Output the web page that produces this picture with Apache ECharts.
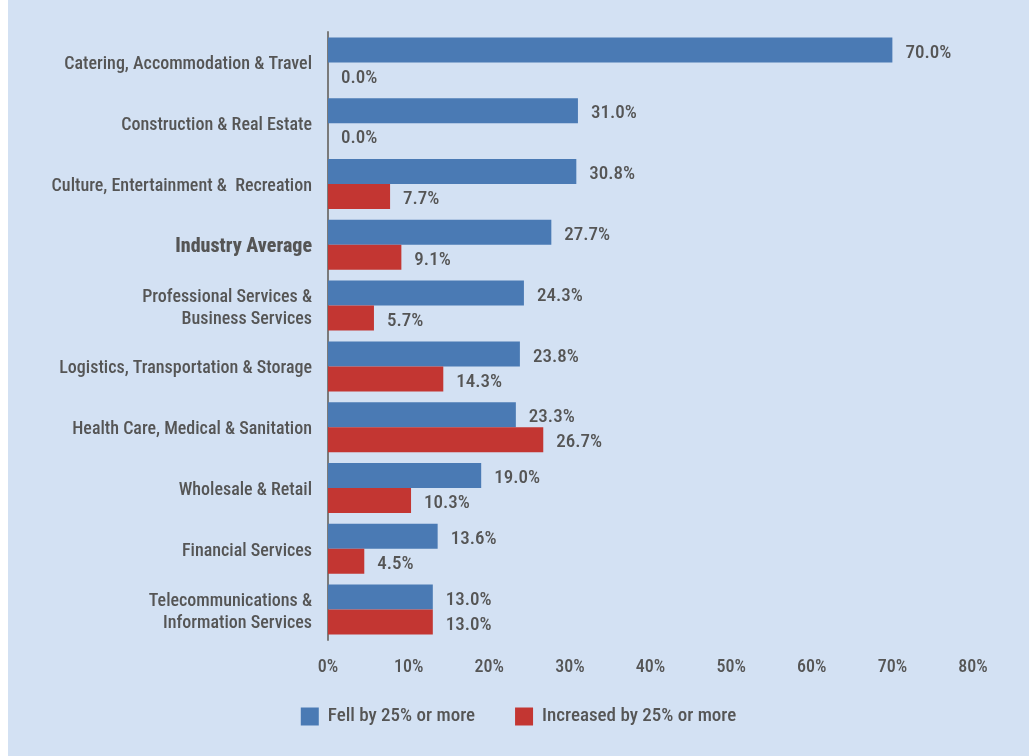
<!DOCTYPE html>
<html>
<head>
<meta charset="utf-8">
<script src="https://cdn.jsdelivr.net/npm/echarts@6/dist/echarts.min.js"></script>
<style>
  html, body { margin: 0; padding: 0; background: #ffffff; }
  #chart { position: absolute; left: 8px; top: 0; width: 1021px; height: 756px; background: #d3e1f3; }
</style>
</head>
<body>
<div id="chart"></div>
<script>
// Industries, top to bottom
const categories = [
  'Catering, Accommodation & Travel',
  'Construction & Real Estate',
  'Culture, Entertainment &  Recreation',
  'Industry Average',
  'Professional Services &\nBusiness Services',
  'Logistics, Transportation & Storage',
  'Health Care, Medical & Sanitation',
  'Wholesale & Retail',
  'Financial Services',
  'Telecommunications &\nInformation Services'
];
// Share of firms whose revenue fell / increased by 25% or more (%)
const fellValues = [70.0, 31.0, 30.8, 27.7, 24.3, 23.8, 23.3, 19.0, 13.6, 13.0];
const increasedValues = [0.0, 0.0, 7.7, 9.1, 5.7, 14.3, 26.7, 10.3, 4.5, 13.0];
const seriesNames = ['Fell by 25% or more', 'Increased by 25% or more'];
const highlighted = 'Industry Average';

// Condensed Roboto face for all text
const FONT = '"Roboto Condensed", Roboto, sans-serif';
const STRETCH = 'condensed';
const TEXT = '#555555';

const chart = echarts.init(document.getElementById('chart'));

const text = (size, weight) => ({
  color: TEXT, fontFamily: FONT, fontStyle: STRETCH, fontWeight: weight || 500, fontSize: size
});

const labelStyle = Object.assign({
  show: true,
  position: 'right',
  distance: 13,
  offset: [0, 3],
  formatter: p => p.value.toFixed(1) + '%'
}, text(19));

const option = {
  animation: false,
  grid: { left: 320, right: 56, top: 32, bottom: 116, containLabel: false },
  legend: {
    bottom: 25,
    left: 'center',
    itemWidth: 18,
    itemHeight: 18,
    itemGap: 40,
    icon: 'rect',
    textStyle: Object.assign({ padding: [0, 0, 0, 4] }, text(19)),
    data: seriesNames
  },
  xAxis: {
    type: 'value',
    min: 0,
    max: 80,
    interval: 10,
    axisLine: { show: false },
    axisTick: { show: false },
    splitLine: { show: false },
    axisLabel: Object.assign({ margin: 18, formatter: v => v + '%' }, text(18))
  },
  yAxis: {
    type: 'category',
    inverse: true,
    data: categories,
    axisLine: { show: true, lineStyle: { color: '#7a7a7a', width: 2 } },
    axisTick: { show: false },
    axisLabel: Object.assign({
      margin: 16,
      lineHeight: 22,
      align: 'right',
      padding: [5, 0, 0, 0],
      formatter: v => v === highlighted ? '{b|' + v + '}' : v,
      rich: {
        b: text(20, 800)
      }
    }, text(18))
  },
  series: [
    {
      name: seriesNames[0],
      type: 'bar',
      data: fellValues,
      barWidth: 25,
      barGap: '0%',
      itemStyle: { color: '#4a7ab4' },
      label: labelStyle
    },
    {
      name: seriesNames[1],
      type: 'bar',
      data: increasedValues,
      barWidth: 25,
      barGap: '0%',
      itemStyle: { color: '#c33632' },
      label: labelStyle
    }
  ]
};

chart.setOption(option);

// Redraw once the condensed faces are loaded so the canvas text uses them
if (document.fonts && document.fonts.load) {
  Promise.all([
    document.fonts.load('condensed 500 18px Roboto'),
    document.fonts.load('condensed 800 20px Roboto')
  ]).then(() => {
    chart.clear();
    chart.setOption(option);
  }).catch(() => {});
}
</script>
</body>
</html>
